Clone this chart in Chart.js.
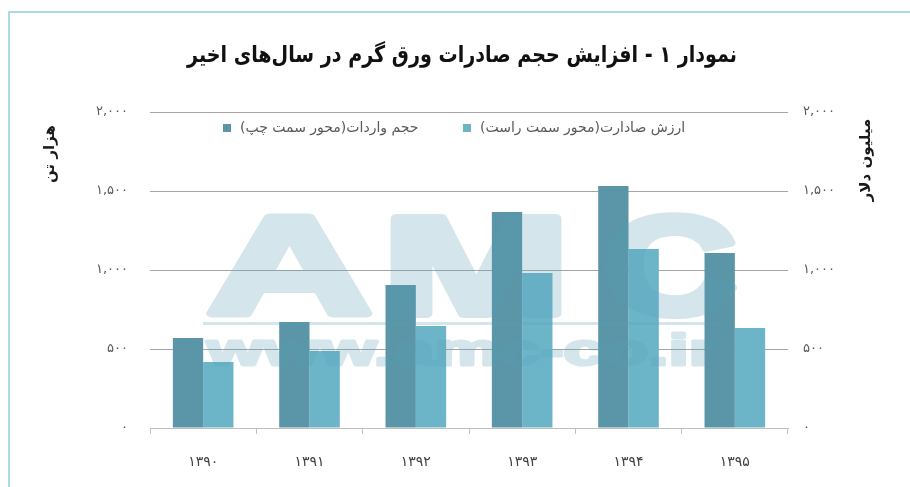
<!DOCTYPE html>
<html>
<head>
<meta charset="utf-8">
<script src="https://cdn.jsdelivr.net/npm/chart.js@4.4.1/dist/chart.umd.min.js"></script>
<style>
html,body{margin:0;padding:0;background:#fff;}
#wrap{width:910px;height:487px;position:relative;}
</style>
</head>
<body>
<div id="wrap"><canvas id="c" width="910" height="487"></canvas></div>
<script>
const years = ['۱۳۹۰', '۱۳۹۱', '۱۳۹۲', '۱۳۹۳', '۱۳۹۴', '۱۳۹۵'];
const importVolume = [570, 671, 905, 1367, 1532, 1108];
const exportValue = [418, 487, 646, 981, 1133, 633];
const seriesLabels = ['حجم واردات(محور سمت چپ)', 'ارزش صادارت(محور سمت راست)'];
const titleText = 'نمودار ۱ - افزایش حجم صادرات ورق گرم در سال‌های اخیر';
const leftAxisTitle = 'هزار تن';
const rightAxisTitle = 'میلیون دلار';

const FA = '۰۱۲۳۴۵۶۷۸۹';
function fa(n) {
  const s = Math.round(n).toString().replace(/\B(?=(\d{3})+(?!\d))/g, ',');
  return s.replace(/\d/g, d => FA[+d]);
}

function watermarkCanvas() {
  const off = document.createElement('canvas');
  off.width = 910; off.height = 487;
  const c = off.getContext('2d');
  c.fillStyle = 'rgb(87,159,183)';
  c.strokeStyle = 'rgb(87,159,183)';
  c.lineJoin = 'round';
  c.textBaseline = 'alphabetic';
  c.textAlign = 'left';
  const parts = [['A', 203, 376], ['M', 378, 574], ['C', 600, 741]];
  c.font = 'bold 140px "Liberation Sans"';
  parts.forEach(([t, x0, x1]) => {
    const w = c.measureText(t).width;
    c.save();
    c.translate(x0 + 4, 314);
    c.scale((x1 - x0 - 8) / w, 1);
    c.lineWidth = 8;
    c.fillText(t, 0, 0);
    c.strokeText(t, 0, 0);
    c.restore();
  });
  c.fillRect(203, 322, 520, 3);
  c.font = 'bold 44px "Liberation Sans"';
  const w2 = c.measureText('www.amc-co.ir').width;
  c.save();
  c.translate(207, 365);
  c.scale(510 / w2, 1);
  c.lineWidth = 3;
  c.fillText('www.amc-co.ir', 0, 0);
  c.strokeText('www.amc-co.ir', 0, 0);
  c.restore();
  return off;
}

const decor = {
  id: 'decor',
  beforeDraw(chart) {
    const ctx = chart.ctx;
    ctx.save();
    ctx.fillStyle = '#ffffff';
    ctx.fillRect(0, 0, chart.width, chart.height);
    ctx.strokeStyle = '#a9dbe4';
    ctx.lineWidth = 2;
    ctx.beginPath();
    ctx.moveTo(9, 487);
    ctx.lineTo(9, 12);
    ctx.lineTo(910, 12);
    ctx.stroke();
    ctx.restore();
  },
  afterDatasetsDraw(chart) {
    const ctx = chart.ctx;
    ctx.save();
    ctx.globalAlpha = 0.25;
    ctx.drawImage(watermarkCanvas(), 0, 0);
    ctx.restore();
  },
  afterDraw(chart) {
    const ctx = chart.ctx;
    ctx.save();
    ctx.direction = 'rtl';
    // title
    ctx.fillStyle = '#111111';
    ctx.font = 'bold 23px "DejaVu Sans"';
    ctx.textAlign = 'center';
    ctx.textBaseline = 'middle';
    const tw0 = ctx.measureText(titleText).width;
    ctx.save();
    ctx.translate(462, 56);
    ctx.scale(550 / tw0, 1);
    ctx.fillText(titleText, 0, 0);
    ctx.restore();
    // axis titles
    ctx.fillStyle = '#1a1a1a';
    ctx.font = 'bold 15px "DejaVu Sans"';
    ctx.save();
    ctx.translate(50, 154);
    ctx.rotate(-Math.PI / 2);
    ctx.fillText(leftAxisTitle, 0, 0);
    ctx.restore();
    ctx.save();
    ctx.translate(866, 160);
    ctx.rotate(-Math.PI / 2);
    ctx.fillText(rightAxisTitle, 0, 0);
    ctx.restore();
    // legend
    ctx.font = '14px "DejaVu Sans"';
    const boxes = [223, 463];
    chart.data.datasets.forEach((ds, i) => {
      const bx = boxes[i];
      ctx.fillStyle = ds.backgroundColor;
      ctx.fillRect(bx, 124, 8, 8);
      ctx.fillStyle = '#595959';
      const tw = ctx.measureText(ds.label).width;
      ctx.textAlign = 'right';
      ctx.fillText(ds.label, bx + 17 + tw, 128);
    });
    ctx.restore();
  }
};

new Chart(document.getElementById('c'), {
  type: 'bar',
  data: {
    labels: years,
    datasets: [
      { label: seriesLabels[0], data: importVolume, backgroundColor: '#5a96a8', yAxisID: 'y',
        categoryPercentage: 0.57, barPercentage: 1.0 },
      { label: seriesLabels[1], data: exportValue, backgroundColor: '#6cb5c9', yAxisID: 'y1',
        categoryPercentage: 0.57, barPercentage: 1.0 }
    ]
  },
  options: {
    responsive: false,
    animation: false,
    events: [],
    layout: { padding: { top: 112, left: 0, right: 0, bottom: 0 } },
    plugins: { legend: { display: false }, tooltip: { enabled: false }, title: { display: false } },
    scales: {
      x: {
        afterFit(s) { s.height = 59; },
        grid: { offset: true, drawOnChartArea: false, drawTicks: true, tickLength: 6, color: '#bfbfbf' },
        border: { display: true, color: '#bfbfbf' },
        ticks: { font: { family: '"DejaVu Sans"', size: 14 }, color: '#404040', padding: 20 }
      },
      y: {
        position: 'left',
        min: 0, max: 2000,
        afterFit(s) { s.width = 150; },
        grid: { color: '#a6a6a6', drawTicks: false },
        border: { display: false },
        ticks: { stepSize: 500, padding: 22, color: '#595959', font: { family: '"DejaVu Sans"', size: 13 },
                 callback: v => fa(v) }
      },
      y1: {
        position: 'right',
        min: 0, max: 2000,
        afterFit(s) { s.width = 122; },
        grid: { drawOnChartArea: false, drawTicks: false },
        border: { display: false },
        ticks: { stepSize: 500, padding: 15, color: '#595959', font: { family: '"DejaVu Sans"', size: 13 },
                 callback: v => fa(v) }
      }
    }
  },
  plugins: [decor]
});
</script>
</body>
</html>
